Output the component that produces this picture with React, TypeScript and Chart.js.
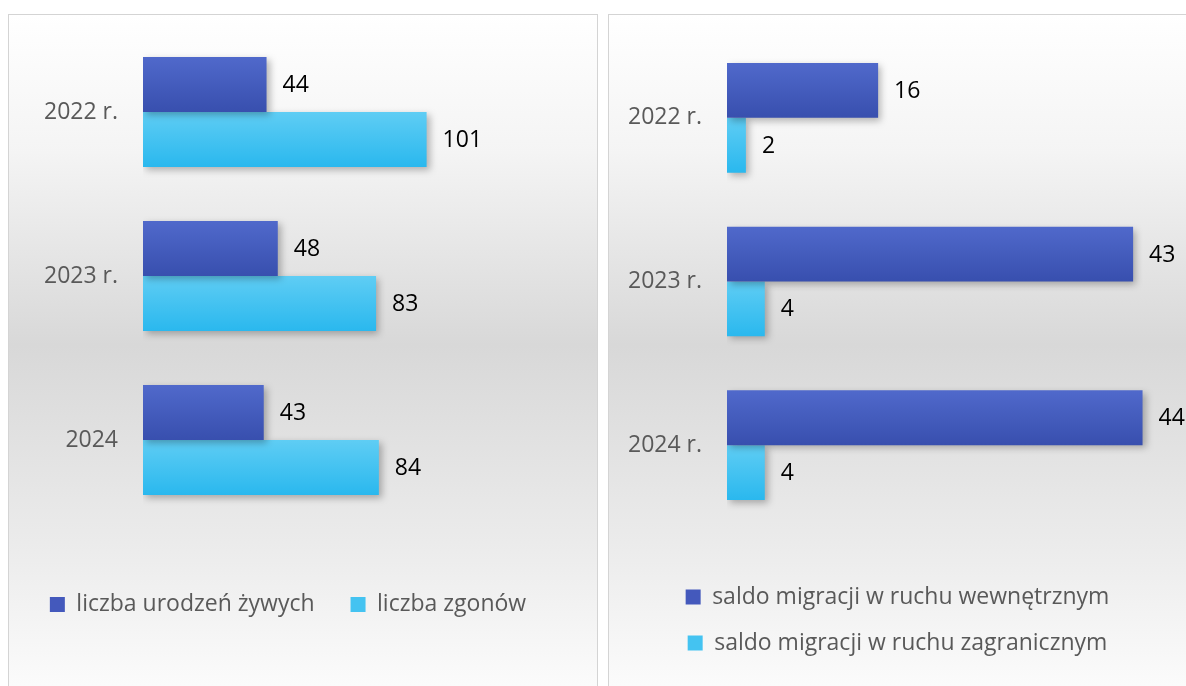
import React, { useEffect, useRef } from 'react';
import { Chart, registerables } from 'chart.js';

Chart.register(...registerables);

// ---- data ----
const leftCategories = ['2022 r.', '2023 r.', '2024'];
const birthsValues = [44, 48, 43];
const deathsValues = [101, 83, 84];
const leftSeriesNames = ['liczba urodzeń żywych', 'liczba zgonów'];

const rightCategories = ['2022 r.', '2023 r.', '2024 r.'];
const internalMigrationValues = [16, 43, 44];
const foreignMigrationValues = [2, 4, 4];
const rightSeriesNames = ['saldo migracji w ruchu wewnętrznym', 'saldo migracji w ruchu zagranicznym'];

// ---- styles ----
const FONT = '"Open Sans", "Noto Sans", sans-serif';
const FONT_SIZE = 23;
const DARK = { top: '#5069cb', bottom: '#384fae', solid: '#4459bc' };
const LIGHT = { top: '#5fcdf4', bottom: '#2ab8ee', solid: '#44c3f1' };
const CAT_PCT = 0.67;

function barFill(c: any, col: { top: string; bottom: string }) {
  const chart = c.chart;
  const y = chart.scales && chart.scales.y;
  if (!chart.chartArea || !y || c.type !== 'data') return col.bottom;
  const n = chart.data.labels.length;
  const band = (y.bottom - y.top) / n;
  const thick = (band * CAT_PCT) / 2;
  const center = y.getPixelForValue(c.dataIndex);
  const start = center - thick + c.datasetIndex * thick;
  if (!isFinite(start)) return col.bottom;
  const g = chart.ctx.createLinearGradient(0, start, 0, start + thick);
  g.addColorStop(0, col.top);
  g.addColorStop(1, col.bottom);
  return g;
}

const barEffects = {
  id: 'barEffects',
  beforeDatasetsDraw(chart: any) {
    const ctx = chart.ctx;
    ctx.save();
    ctx.shadowColor = 'rgba(0,0,0,0.28)';
    ctx.shadowBlur = 7;
    ctx.shadowOffsetX = 3;
    ctx.shadowOffsetY = 3;
  },
  afterDatasetsDraw(chart: any) {
    const ctx = chart.ctx;
    ctx.restore();
    ctx.save();
    ctx.font = `${FONT_SIZE}px ${FONT}`;
    ctx.fillStyle = '#000000';
    ctx.textAlign = 'left';
    ctx.textBaseline = 'middle';
    chart.data.datasets.forEach((ds: any, di: number) => {
      const meta = chart.getDatasetMeta(di);
      meta.data.forEach((bar: any, i: number) => {
        ctx.fillText(String(ds.data[i]), bar.x + 16, bar.y + 1);
      });
    });
    ctx.restore();
  },
};

type PanelCfg = {
  labels: string[];
  series: { name: string; data: number[]; col: typeof DARK }[];
  width: number;
  height: number;
  axisWidth: number;
  padTop: number;
  padRight: number;
  padBottom: number;
  xMax: number;
  xAxisHeight: number;
  legendPadding: number;
};

function Panel({ cfg }: { cfg: PanelCfg }) {
  const ref = useRef<HTMLCanvasElement>(null);
  useEffect(() => {
    if (!ref.current) return;
    const chart = new Chart(ref.current, {
      type: 'bar',
      data: {
        labels: cfg.labels,
        datasets: cfg.series.map((s) => ({
          label: s.name,
          data: s.data,
          backgroundColor: (c: any) => barFill(c, s.col),
          categoryPercentage: CAT_PCT,
          barPercentage: 1,
          borderWidth: 0,
        })),
      },
      options: {
        indexAxis: 'y',
        responsive: false,
        animation: false,
        events: [],
        layout: { padding: { top: cfg.padTop, right: cfg.padRight, bottom: cfg.padBottom, left: 0 } },
        scales: {
          y: {
            type: 'category',
            grid: { display: false, drawTicks: false },
            border: { display: false },
            ticks: { color: '#595959', font: { family: FONT, size: FONT_SIZE }, padding: 25 },
            afterFit: (s: any) => {
              s.width = cfg.axisWidth;
              s.paddingTop = 0;
              s.paddingBottom = 0;
            },
          },
          x: {
            type: 'linear',
            min: 0,
            max: cfg.xMax,
            position: 'bottom',
            grid: { display: false, drawTicks: false },
            border: { display: false },
            ticks: { display: false },
            afterFit: (s: any) => {
              s.height = cfg.xAxisHeight;
              s.paddingLeft = 0;
              s.paddingRight = 0;
            },
          },
        },
        plugins: {
          tooltip: { enabled: false },
          legend: {
            display: true,
            position: 'bottom',
            align: 'center',
            labels: {
              color: '#595959',
              font: { family: FONT, size: FONT_SIZE },
              boxWidth: 15,
              boxHeight: 15,
              padding: cfg.legendPadding,
              generateLabels: (ch: any) => {
                const items = Chart.defaults.plugins.legend.labels.generateLabels(ch);
                return items.map((it: any, i: number) => ({
                  ...it,
                  fillStyle: cfg.series[i].col.solid,
                  strokeStyle: 'rgba(0,0,0,0)',
                  lineWidth: 0,
                }));
              },
            },
          },
        },
      },
      plugins: [barEffects],
    } as any);
    return () => chart.destroy();
  }, [cfg]);
  return <canvas ref={ref} width={cfg.width} height={cfg.height} style={{ display: 'block', width: cfg.width, height: cfg.height }} />;
}

const leftCfg: PanelCfg = {
  labels: leftCategories,
  series: [
    { name: leftSeriesNames[0], data: birthsValues, col: DARK },
    { name: leftSeriesNames[1], data: deathsValues, col: LIGHT },
  ],
  width: 588,
  height: 671,
  axisWidth: 134,
  padTop: 15,
  padRight: 30,
  padBottom: 60,
  xMax: 151,
  xAxisHeight: 35,
  legendPadding: 36,
};

const rightCfg: PanelCfg = {
  labels: rightCategories,
  series: [
    { name: rightSeriesNames[0], data: internalMigrationValues, col: DARK },
    { name: rightSeriesNames[1], data: foreignMigrationValues, col: LIGHT },
  ],
  width: 577,
  height: 671,
  axisWidth: 118,
  padTop: 21,
  padRight: 0,
  padBottom: 21.5,
  xMax: 48.6,
  xAxisHeight: 35.5,
  legendPadding: 23,
};

const panelBg = 'linear-gradient(to bottom, #ffffff 0%, #f4f4f4 20%, #d8d8d8 48%, #ececec 78%, #fdfdfd 100%)';

export default function App() {
  return (
    <div style={{ position: 'fixed', left: 0, top: 0, width: 1186, height: 686, overflow: 'hidden', background: '#ffffff' }}>
      <div
        style={{
          position: 'absolute',
          left: 8,
          top: 14,
          width: 590,
          height: 690,
          boxSizing: 'border-box',
          border: '1px solid #d4d4d4',
          background: panelBg,
        }}
      >
        <Panel cfg={leftCfg} />
      </div>
      <div
        style={{
          position: 'absolute',
          left: 608,
          top: 14,
          width: 600,
          height: 690,
          boxSizing: 'border-box',
          border: '1px solid #d4d4d4',
          background: panelBg,
        }}
      >
        <Panel cfg={rightCfg} />
      </div>
    </div>
  );
}
